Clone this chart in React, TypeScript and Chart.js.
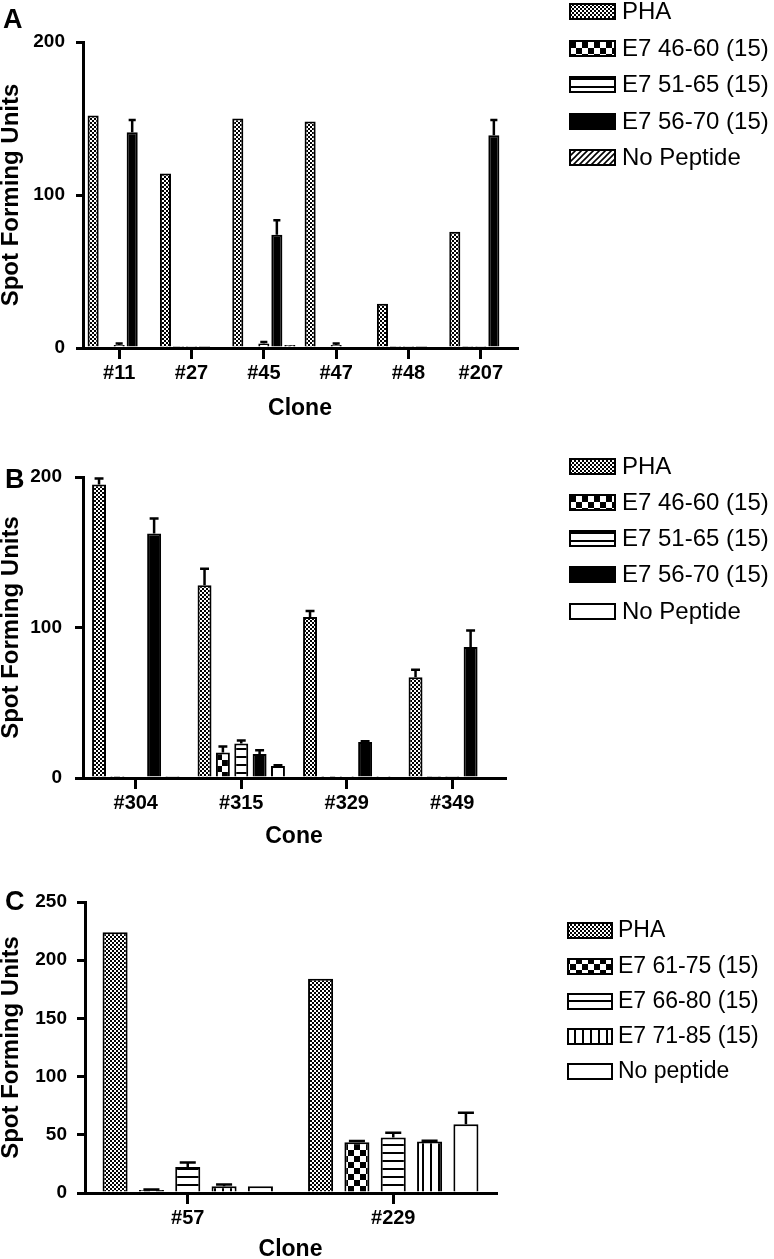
import React, { useEffect, useRef } from 'react';
import { Chart, registerables } from 'chart.js';
Chart.register(...registerables);

const FONT = '"Liberation Sans", Arial, Helvetica, sans-serif';

// ---------- Panel A data ----------
const clonesA = ['#11', '#27', '#45', '#47', '#48', '#207'];
const namesA = ['PHA', 'E7 46-60 (15)', 'E7 51-65 (15)', 'E7 56-70 (15)', 'No Peptide'];
const phaA = [152, 114, 150, 148, 29, 76];
const e46A = [1, 0.5, 1, 1, 0.5, 0.5];
const e51A = [2, 0.5, 3, 2, 0.5, 0.5];
const e56A = [141, 0.5, 74, 1, 0.5, 139];
const noPepA = [1, 1, 2, 1, 1, 1];
const errPhaA = [0, 0, 0, 0, 0, 0];
const err46A = [0, 0, 0, 0, 0, 0];
const err51A = [1, 0, 1, 1, 0, 0];
const err56A = [8, 0, 9.5, 0, 0, 10];
const errNoPepA = [0, 0, 0, 0, 0, 0];
const yTicksA = { max: 200, step: 100 };

// ---------- Panel B data ----------
const clonesB = ['#304', '#315', '#329', '#349'];
const namesB = ['PHA', 'E7 46-60 (15)', 'E7 51-65 (15)', 'E7 56-70 (15)', 'No Peptide'];
const phaB = [195, 128, 107, 67];
const e46B = [0.3, 17, 0.3, 0.5];
const e51B = [1, 23, 0.3, 0.5];
const e56B = [162.5, 16, 24, 87];
const noPepB = [0.5, 8, 0.3, 0];
const errPhaB = [4, 11, 4, 5];
const err46B = [0, 4, 0, 0];
const err51B = [0, 2, 0, 0];
const err56B = [10, 2.5, 0.5, 11];
const errNoPepB = [0, 0.5, 0, 0];
const yTicksB = { max: 200, step: 100 };

// ---------- Panel C data ----------
const clonesC = ['#57', '#229'];
const namesC = ['PHA', 'E7 61-75 (15)', 'E7 66-80 (15)', 'E7 71-85 (15)', 'No peptide'];
const phaC = [224, 184];
const e61C = [2.5, 43.7];
const e66C = [22.3, 47.7];
const e71C = [5.7, 44.3];
const noPepC = [5.7, 59];
const errPhaC = [0, 0];
const err61C = [0.5, 1];
const err66C = [4, 4];
const err71C = [1.5, 0.6];
const errNoPepC = [0, 10];
const yTicksC = { max: 250, step: 50 };

type Kind = 'fine' | 'checker' | 'hlines' | 'vlines' | 'diag' | 'solid' | 'white';

function makeFill(kind: Kind): any {
  if (kind === 'solid') return '#000';
  if (kind === 'white') return '#fff';
  const c = document.createElement('canvas');
  const g = c.getContext('2d')!;
  if (kind === 'fine') {
    c.width = 4; c.height = 4;
    g.fillStyle = '#fff'; g.fillRect(0, 0, 4, 4);
    g.fillStyle = '#000'; g.fillRect(0, 0, 2, 2); g.fillRect(2, 2, 2, 2);
  } else if (kind === 'checker') {
    c.width = 12; c.height = 12;
    g.fillStyle = '#fff'; g.fillRect(0, 0, 12, 12);
    g.fillStyle = '#000'; g.fillRect(0, 0, 6, 6); g.fillRect(6, 6, 6, 6);
  } else if (kind === 'hlines') {
    c.width = 8; c.height = 8;
    g.fillStyle = '#fff'; g.fillRect(0, 0, 8, 8);
    g.fillStyle = '#000'; g.fillRect(0, 6, 8, 2);
  } else if (kind === 'vlines') {
    c.width = 8; c.height = 8;
    g.fillStyle = '#fff'; g.fillRect(0, 0, 8, 8);
    g.fillStyle = '#000'; g.fillRect(6, 0, 2, 8);
  } else if (kind === 'diag') {
    c.width = 6; c.height = 6;
    g.fillStyle = '#fff'; g.fillRect(0, 0, 6, 6);
    g.strokeStyle = '#000'; g.lineWidth = 1.6;
    g.beginPath();
    g.moveTo(-1, 7); g.lineTo(7, -1);
    g.moveTo(-4, 4); g.lineTo(4, -4);
    g.moveTo(2, 10); g.lineTo(10, 2);
    g.stroke();
  }
  return g.createPattern(c, 'repeat');
}

interface Spec {
  top: number; height: number;
  labels: string[];
  names: string[];
  values: number[][];
  errors: number[][];
  kinds: Kind[];
  yMax: number; yStep: number;
  area: { left: number; top: number; right: number; bottom: number };
  xTitle: string; xTitleMid: number;
  yTickLen: number; yTickPad: number;
  catPct: number; barPct: number;
  legend: { boxX: number; boxW: number; boxH: number; textX: number; rows: number[]; size: number };
  letter: { text: string; x: number; y: number };
}

const W = 774;

const specs: Spec[] = [
  {
    top: 0, height: 430,
    labels: clonesA, names: namesA,
    values: [phaA, e46A, e51A, e56A, noPepA],
    errors: [errPhaA, err46A, err51A, err56A, errNoPepA],
    kinds: ['fine', 'checker', 'hlines', 'solid', 'diag'],
    yMax: yTicksA.max, yStep: yTicksA.step,
    area: { left: 83, top: 42, right: 517, bottom: 348 },
    xTitle: 'Clone', xTitleMid: 409,
    yTickLen: 7, yTickPad: 11,
    catPct: 0.9, barPct: 0.85,
    legend: { boxX: 569, boxW: 47, boxH: 17, textX: 622, rows: [11.5, 48, 84, 121, 157], size: 24 },
    letter: { text: 'A', x: 3, y: 28 },
  },
  {
    top: 430, height: 420,
    labels: clonesB, names: namesB,
    values: [phaB, e46B, e51B, e56B, noPepB],
    errors: [errPhaB, err46B, err51B, err56B, errNoPepB],
    kinds: ['fine', 'checker', 'hlines', 'solid', 'white'],
    yMax: yTicksB.max, yStep: yTicksB.step,
    area: { left: 83, top: 47, right: 505, bottom: 348 },
    xTitle: 'Cone', xTitleMid: 407,
    yTickLen: 8, yTickPad: 13,
    catPct: 0.87, barPct: 0.76,
    legend: { boxX: 569, boxW: 47, boxH: 17, textX: 622, rows: [36, 72, 108, 144, 181], size: 24 },
    letter: { text: 'B', x: 5, y: 58 },
  },
  {
    top: 850, height: 409,
    labels: clonesC, names: namesC,
    values: [phaC, e61C, e66C, e71C, noPepC],
    errors: [errPhaC, err61C, err66C, err71C, errNoPepC],
    kinds: ['fine', 'checker', 'hlines', 'vlines', 'white'],
    yMax: yTicksC.max, yStep: yTicksC.step,
    area: { left: 85, top: 52, right: 496, bottom: 343 },
    xTitle: 'Clone', xTitleMid: 400,
    yTickLen: 8, yTickPad: 10,
    catPct: 0.884, barPct: 0.69,
    legend: { boxX: 567, boxW: 46, boxH: 17, textX: 618, rows: [80, 116, 151, 186, 221], size: 23 },
    letter: { text: 'C', x: 5, y: 60 },
  },
];

function Panel({ spec }: { spec: Spec }) {
  const ref = useRef<HTMLCanvasElement | null>(null);
  useEffect(() => {
    if (!ref.current) return;
    const fills = spec.kinds.map(makeFill);
    const xH = spec.xTitleMid + 12 - spec.area.bottom;
    const padBottom = spec.height - spec.area.bottom - xH;

    const errorBars = {
      id: 'errorBars',
      afterDatasetsDraw(chart: any) {
        const ctx = chart.ctx;
        const ys = chart.scales.y;
        ctx.save();
        ctx.strokeStyle = '#000';
        ctx.lineWidth = 2.5;
        chart.data.datasets.forEach((ds: any, i: number) => {
          const meta = chart.getDatasetMeta(i);
          meta.data.forEach((el: any, j: number) => {
            const e = spec.errors[i][j];
            if (!e) return;
            const v = ds.data[j] as number;
            const p = el.getProps(['x', 'y', 'width'], true);
            const yE = ys.getPixelForValue(v + e);
            const cap = p.width * 0.32;
            ctx.beginPath();
            ctx.moveTo(p.x, p.y);
            ctx.lineTo(p.x, yE);
            ctx.moveTo(p.x - cap, yE);
            ctx.lineTo(p.x + cap, yE);
            ctx.stroke();
          });
        });
        ctx.restore();
      },
    };

    const legendAndLetter = {
      id: 'customLegend',
      afterDraw(chart: any) {
        const ctx = chart.ctx;
        const L = spec.legend;
        ctx.save();
        chart.data.datasets.forEach((ds: any, i: number) => {
          const cy = L.rows[i];
          const y0 = Math.round(cy - L.boxH / 2);
          ctx.fillStyle = ds.backgroundColor;
          ctx.fillRect(L.boxX, y0, L.boxW, L.boxH);
          ctx.strokeStyle = '#000';
          ctx.lineWidth = 2;
          ctx.strokeRect(L.boxX + 1, y0 + 1, L.boxW - 2, L.boxH - 2);
          ctx.fillStyle = '#000';
          ctx.font = `${L.size}px ${FONT}`;
          ctx.textBaseline = 'middle';
          ctx.textAlign = 'left';
          ctx.fillText(ds.label, L.textX, cy + 1);
        });
        ctx.font = `bold 27px ${FONT}`;
        ctx.textBaseline = 'alphabetic';
        ctx.fillStyle = '#000';
        ctx.fillText(spec.letter.text, spec.letter.x, spec.letter.y);
        ctx.restore();
      },
    };

    const chart = new Chart(ref.current, {
      type: 'bar',
      data: {
        labels: spec.labels,
        datasets: spec.names.map((n, i) => ({
          label: n,
          data: spec.values[i],
          backgroundColor: fills[i],
          borderColor: '#000',
          borderWidth: 2,
          categoryPercentage: spec.catPct,
          barPercentage: spec.barPct,
        })),
      },
      options: {
        responsive: false,
        animation: false,
        devicePixelRatio: 1,
        layout: {
          padding: {
            left: 0,
            top: spec.area.top,
            right: W - spec.area.right,
            bottom: padBottom,
          },
        },
        plugins: {
          legend: { display: false },
          tooltip: { enabled: false },
        },
        scales: {
          x: {
            z: 1,
            offset: true,
            ticks: {
              font: { size: 20, weight: 'bold', family: FONT },
              color: '#000',
              padding: 2,
              maxRotation: 0,
              autoSkip: false,
            },
            grid: {
              display: true,
              offset: false,
              drawOnChartArea: false,
              drawTicks: true,
              tickLength: 11,
              tickWidth: 3,
              tickColor: '#000',
              color: '#000',
              lineWidth: 3,
            },
            border: { display: true, color: '#000', width: 3 },
            title: {
              display: true,
              text: spec.xTitle,
              color: '#000',
              font: { size: 23, weight: 'bold', family: FONT, lineHeight: 1 },
              padding: { top: 0, bottom: 0.5 },
            },
            afterFit: (s: any) => { s.height = xH; },
          },
          y: {
            min: 0,
            max: spec.yMax,
            ticks: {
              stepSize: spec.yStep,
              font: { size: 19, weight: 'bold', family: FONT },
              color: '#000',
              padding: spec.yTickPad,
            },
            grid: {
              display: true,
              drawOnChartArea: false,
              drawTicks: true,
              tickLength: spec.yTickLen,
              tickWidth: 3,
              tickColor: '#000',
              color: '#000',
              lineWidth: 3,
            },
            border: { display: true, color: '#000', width: 3 },
            title: {
              display: true,
              text: 'Spot Forming Units',
              color: '#000',
              font: { size: 24, weight: 'bold', family: FONT, lineHeight: 1 },
              padding: { top: -1, bottom: 0 },
            },
            afterFit: (s: any) => { s.width = spec.area.left; },
          },
        },
      } as any,
      plugins: [errorBars, legendAndLetter],
    });
    return () => chart.destroy();
  }, [spec]);

  return (
    <div style={{ position: 'absolute', left: 0, top: spec.top, width: W, height: spec.height }}>
      <canvas ref={ref} width={W} height={spec.height} style={{ width: W, height: spec.height, display: 'block' }} />
    </div>
  );
}

export default function App() {
  return (
    <div style={{ position: 'absolute', left: 0, top: 0, width: W, height: 1259, background: '#fff', overflow: 'hidden' }}>
      {specs.map((s, i) => (
        <Panel key={i} spec={s} />
      ))}
    </div>
  );
}
